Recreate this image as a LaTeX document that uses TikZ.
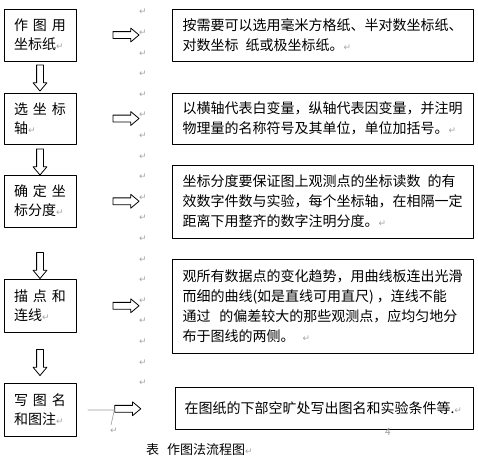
\documentclass[tikz,border=0pt]{standalone}
\usepackage{fontspec}
\setmainfont{Noto Sans CJK SC}
\newfontfamily\symfont{DejaVu Sans}
\usetikzlibrary{shapes.arrows,calc}
\newcommand{\pmark}{{\color{gray!70}\symfont\fontsize{9}{9}\selectfont ↵}}
\newcommand{\cgap}{\hspace{5pt}}

\begin{document}
\begin{tikzpicture}[x=1pt,y=-1pt,line cap=round,line join=round,
		leftbox/.style={draw,line width=1pt,minimum height=52pt,text width=52pt,inner xsep=10pt,align=left,font=\fontsize{14}{19}\selectfont},
		notebox/.style={draw,line width=1pt,text width=280pt,inner xsep=10.5pt,align=left,font=\fontsize{14}{20}\selectfont},
		blockarrow/.style={single arrow,draw,line width=0.8pt,minimum height=26pt,inner sep=3pt,single arrow head extend=3.5pt,single arrow tip angle=80},
		retmark/.style={text=gray!70,font=\symfont\fontsize{9}{9}\selectfont,inner sep=0pt}]
		\fill[white] (0,0) rectangle (478,461);
		% steps
		\node[leftbox] (a1) at (40,35) {作\cgap 图\cgap 用\\坐标纸\pmark};
		\node[leftbox,minimum height=51pt] (a2) at (40,118.5) {选\cgap 坐\cgap 标\\轴\pmark};
		\node[leftbox] (a3) at (40,201) {确\cgap 定\cgap 坐\\标分度\pmark};
		\node[leftbox,minimum height=53pt] (a4) at (40,305.5) {描\cgap 点\cgap 和\\连线\pmark};
		\node[leftbox,minimum height=53pt] (a5) at (40,409.5) {写\cgap 图\cgap 名\\和图注\pmark};
		% notes
		\node[notebox,minimum height=52pt] (b1) at (322.5,35) {按需要可以选用毫米方格纸、半对数坐标纸、\\对数坐标\hspace{7pt}纸或极坐标纸。\pmark};
		\node[notebox,minimum height=51pt] (b2) at (322.5,118.5) {以横轴代表白变量，纵轴代表因变量，并注明\\物理量的名称符号及其单位，单位加括号。\pmark};
		\node[notebox,minimum height=73pt] (b3) at (322.5,201.5) {坐标分度要保证图上观测点的坐标读数\hspace{7pt}的有\\效数字件数与实验，每个坐标轴，在相隔一定\\距离下用整齐的数字注明分度。\pmark};
		\node[notebox,minimum height=94pt] (b4) at (322.5,306) {观所有数据点的变化趋势，用曲线板连出光滑\\而细的曲线(如是直线可用直尺)\hspace{3pt}，连线不能\\通过\hspace{9pt}的偏差较大的那些观测点，应均匀地分\\布于图线的两侧。\hspace{8pt}\pmark};
		\node[notebox,minimum height=42pt,inner xsep=9pt] (b5) at (324.5,408) {在图纸的下部空旷处写出图名和实验条件等.\pmark};
		% arrows
		\node[blockarrow] (r1) at ($(a1.east)!0.5!(b1.west)$) {};
		\node[blockarrow] (r2) at ($(a2.east)!0.5!(b2.west)$) {};
		\node[blockarrow] (r3) at ($(a3.east)!0.5!(b3.west)$) {};
		\node[blockarrow] (r4) at ($(a4.east)!0.5!(b4.west)$) {};
		\node[blockarrow] (r5) at ($(a5.east)!0.5!(b5.west)$) {};
		\node[blockarrow,rotate=-90] (d1) at (40,76) {};
		\node[blockarrow,rotate=-90] (d2) at (40,160) {};
		\node[blockarrow,rotate=-90] (d3) at (40,263.5) {};
		\node[blockarrow,rotate=-90] (d4) at (40,360.5) {};
		% marks
		\foreach \k in {0,...,18}
			\node[retmark] (m\k) at (143,{12+20.6*\k}) {↵};
		\coordinate (g1) at (88,410);
		\coordinate (g2) at (111,425);
		\draw[gray!80,line width=0.6pt] (g1) -- (g1 -| r5.west) -- (g2);
		\node[retmark] (m19) at (114,431) {↵};
		\node[text=gray!80,font=\fontsize{10}{10}\selectfont,inner sep=0pt] (pg) at (388,432) {4};
		\node[anchor=west,inner sep=0pt,font=\fontsize{13}{13}\selectfont] (cap) at (146,450) {表\hspace{8pt}作图法流程图\pmark};
\end{tikzpicture}
\end{document}
